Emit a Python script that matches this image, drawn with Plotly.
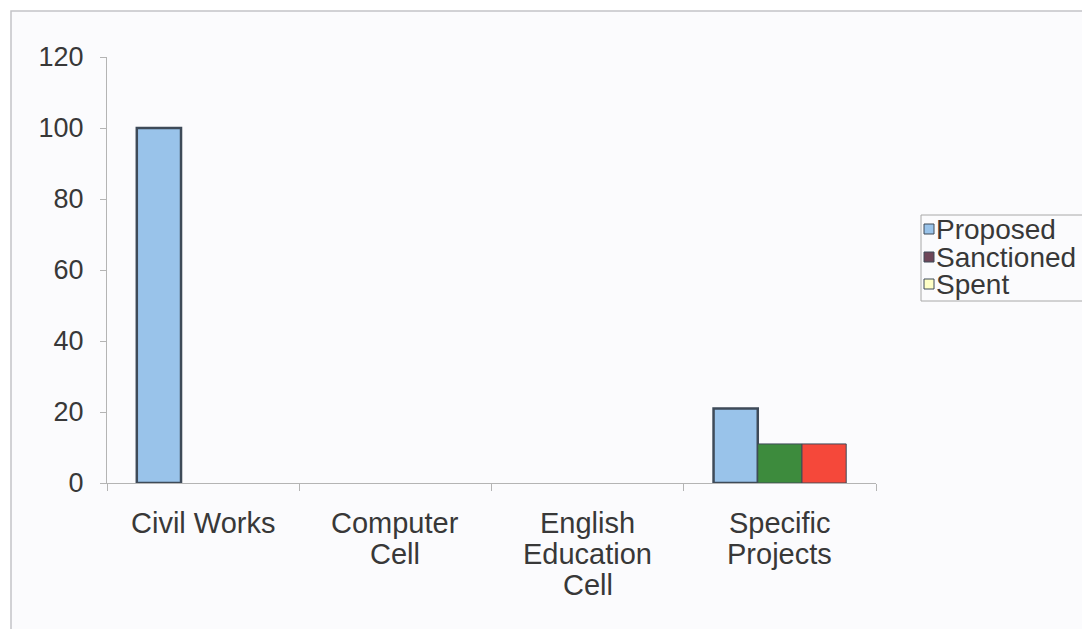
import plotly.graph_objects as go

categories = ["Civil Works", "Computer Cell", "English Education Cell", "Specific Projects"]
category_lines = [["Civil Works"], ["Computer", "Cell"], ["English", "Education", "Cell"], ["Specific", "Projects"]]
series_names = ["Proposed", "Sanctioned", "Spent"]
proposed = [100, 0, 0, 21]
sanctioned = [0, 0, 0, 11]
spent = [0, 0, 0, 11]
y_ticks = [0, 20, 40, 60, 80, 100, 120]

bar_colors = ["#99c3ea", "#3d8b3d", "#f5483a"]
bar_line_widths = [2.5, 1, 1]
key_colors = ["#99c3ea", "#6e4658", "#ffffc6"]
edge = "#3e4a58"
text_color = "#383838"
font_family = "Liberation Sans, Arial, sans-serif"

W, H = 1082, 629
L, R, T, B = 107, 1082 - 876, 57, 629 - 483
pw, ph = W - L - R, H - T - B


def px(x):
    return (x - L) / pw


def py(y):
    return (H - B - y) / ph


fig = go.Figure()
for name, vals, color, lw in zip(series_names, [proposed, sanctioned, spent], bar_colors, bar_line_widths):
    fig.add_trace(go.Bar(
        name=name, x=categories, y=vals, showlegend=False,
        marker=dict(color=color,
                    line=dict(color=edge, width=[lw if v else 0 for v in vals])),
    ))

shapes = [
    # outer chart frame
    dict(type="rect", xref="paper", yref="paper", layer="below",
         x0=px(11), x1=px(1100), y0=py(650), y1=py(11),
         fillcolor="#fbfbfd", line=dict(color="#c4c4c8", width=1.5)),
    # key box
    dict(type="rect", xref="paper", yref="paper",
         x0=px(921), x1=px(1100), y0=py(301), y1=py(215),
         fillcolor="#fbfbfd", line=dict(color="#a8a8a8", width=1)),
]
annotations = []

key_rows = [229, 257, 284]
for name, color, yc in zip(series_names, key_colors, key_rows):
    shapes.append(dict(type="rect", xref="paper", yref="paper",
                       x0=px(924), x1=px(934), y0=py(yc + 5), y1=py(yc - 5),
                       fillcolor=color, line=dict(color=edge, width=1)))
    annotations.append(dict(xref="paper", yref="paper", x=px(934), y=py(yc),
                            xanchor="left", yanchor="middle", showarrow=False,
                            text=name, font=dict(size=28, color=text_color)))

for cat, lines in zip(categories, category_lines):
    for j, line in enumerate(lines):
        annotations.append(dict(xref="x", yref="paper", x=cat, y=py(523 + 31 * j),
                                xanchor="center", yanchor="middle", showarrow=False,
                                text=line, font=dict(size=29, color=text_color)))

fig.update_layout(
    width=W, height=H,
    margin=dict(l=L, r=R, t=T, b=B, autoexpand=False),
    paper_bgcolor="white",
    plot_bgcolor="rgba(0,0,0,0)",
    barmode="group",
    bargap=0.31,
    bargroupgap=0,
    font=dict(family=font_family, color=text_color, size=27),
    showlegend=False,
    xaxis=dict(
        showline=True, linecolor="#b4b4b4", linewidth=1,
        ticks="outside", tickson="boundaries", ticklen=7, tickcolor="#b4b4b4",
        showgrid=False, showticklabels=False,
    ),
    yaxis=dict(
        range=[0, 120], tickvals=y_ticks,
        showline=True, linecolor="#b4b4b4", linewidth=1,
        ticks="outside", ticklen=6, tickcolor="#b4b4b4",
        showgrid=False, zeroline=False, tickfont=dict(size=27, color=text_color),
        ticklabelstandoff=11,
    ),
    shapes=shapes,
    annotations=annotations,
)

fig.write_html("out.html")
